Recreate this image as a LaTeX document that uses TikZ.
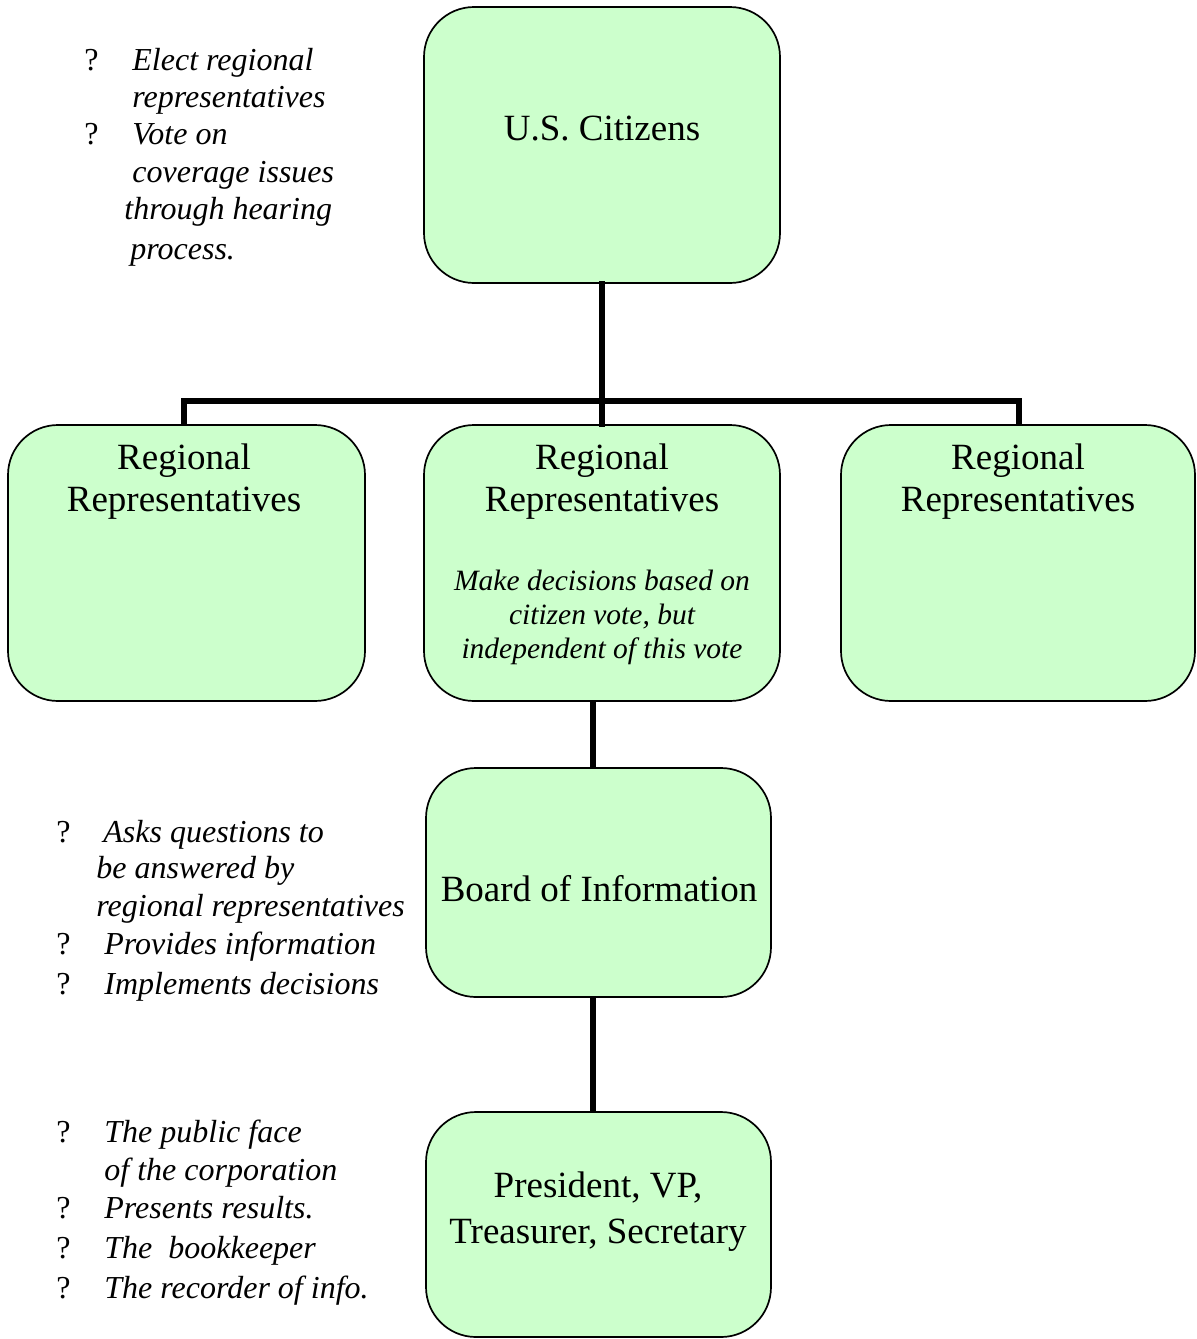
\documentclass[tikz,border=0pt]{standalone}
\usepackage{fontspec}
\setmainfont{Liberation Serif}
\definecolor{boxgreen}{HTML}{CCFFCC}
\begin{document}
\begin{tikzpicture}[x=0.5pt,y=-0.5pt,
  box/.style={draw=black,line width=0.85pt,fill=boxgreen,rounded corners=25pt,inner sep=0pt},
  bigtxt/.style={font=\fontsize{18.5}{21}\selectfont,align=center,inner sep=0pt},
  midtxt/.style={font=\fontsize{14.75}{17}\selectfont\itshape,align=center,inner sep=0pt},
  side/.style={font=\fontsize{16}{18}\selectfont\itshape,anchor=base west,inner sep=0pt},
  qm/.style={font=\fontsize{16}{18}\selectfont,anchor=base west,inner sep=0pt},
  conn/.style={line width=2.6pt,line cap=rect}]
\useasboundingbox (0,0) rectangle (1196,1339);
% boxes
\node[box,minimum width=178pt,minimum height=138pt] (cit) at (602,145) {};
\node[box,minimum width=178.5pt,minimum height=138pt] (left) at (186.5,563) {};
\node[box,minimum width=178pt,minimum height=138pt] (mid) at (602,563) {};
\node[box,minimum width=177pt,minimum height=138pt] (right) at (1018,563) {};
\node[box,minimum width=172.5pt,minimum height=114.5pt] (board) at (598.5,882.5) {};
\node[box,minimum width=172.5pt,minimum height=112.5pt] (pres) at (598.5,1224.5) {};
% connectors
\coordinate (bus) at (602,401);
\draw[conn] (cit.south) -- (bus);
\draw[conn] (bus) -- (mid.north);
\draw[conn,line cap=butt] ([xshift=-1.25pt]left.north) -- ([xshift=-1.25pt]left.north |- bus) -- ([xshift=0.5pt]right.north |- bus) -- ([xshift=0.5pt]right.north);
\draw[conn,line cap=butt] ([xshift=-2.75pt]board.north) -- ([xshift=-2.75pt]board.north |- mid.south);
\draw[conn,line cap=butt] ([xshift=-2.75pt]pres.north) -- ([xshift=-2.75pt]pres.north |- board.south);
% box texts
\node[bigtxt] (citt) at (602,129) {U.S. Citizens};
\node[bigtxt] (leftt) at (184,482) {Regional\\Representatives};
\node[bigtxt] (midt) at (602,482) {Regional\\Representatives};
\node[midtxt] (midi) at (602,617) {Make decisions based on\\citizen vote, but\\independent of this vote};
\node[bigtxt] (rightt) at (1018,482) {Regional\\Representatives};
\node[bigtxt] (boardt) at (599,889) {Board of Information};
\node[bigtxt,font=\fontsize{18.5}{23}\selectfont] (prest) at (598,1212) {President, VP,\\Treasurer, Secretary};
% top-left notes
\node[qm] (q1) at (84,70) {?};
\node[side] (a1) at (132,70) {Elect regional};
\node[side] (a2) at (132,107) {representatives};
\node[qm] (q2) at (84,144) {?};
\node[side] (a3) at (132,144) {Vote on};
\node[side] (a4) at (132,182) {coverage issues};
\node[side] (a5) at (124,219) {through hearing};
\node[side] (a6) at (130,259) {process.};
% middle-left notes
\node[qm] (q3) at (56,842) {?};
\node[side] (b1) at (103,842) {Asks questions to};
\node[side] (b2) at (96,878) {be answered by};
\node[side] (b3) at (96,916) {regional representatives};
\node[qm] (q4) at (56,954) {?};
\node[side] (b4) at (104,954) {Provides information};
\node[qm] (q5) at (56,994) {?};
\node[side] (b5) at (104,994) {Implements decisions};
% bottom-left notes
\node[qm] (q6) at (56,1142) {?};
\node[side] (c1) at (104,1142) {The public face};
\node[side] (c2) at (104,1180) {of the corporation};
\node[qm] (q7) at (56,1218) {?};
\node[side] (c3) at (104,1218) {Presents results.};
\node[qm] (q8) at (56,1258) {?};
\node[side] (c4) at (104,1258) {The\ \ bookkeeper};
\node[qm] (q9) at (56,1298) {?};
\node[side] (c5) at (104,1298) {The recorder of info.};
\end{tikzpicture}
\end{document}
